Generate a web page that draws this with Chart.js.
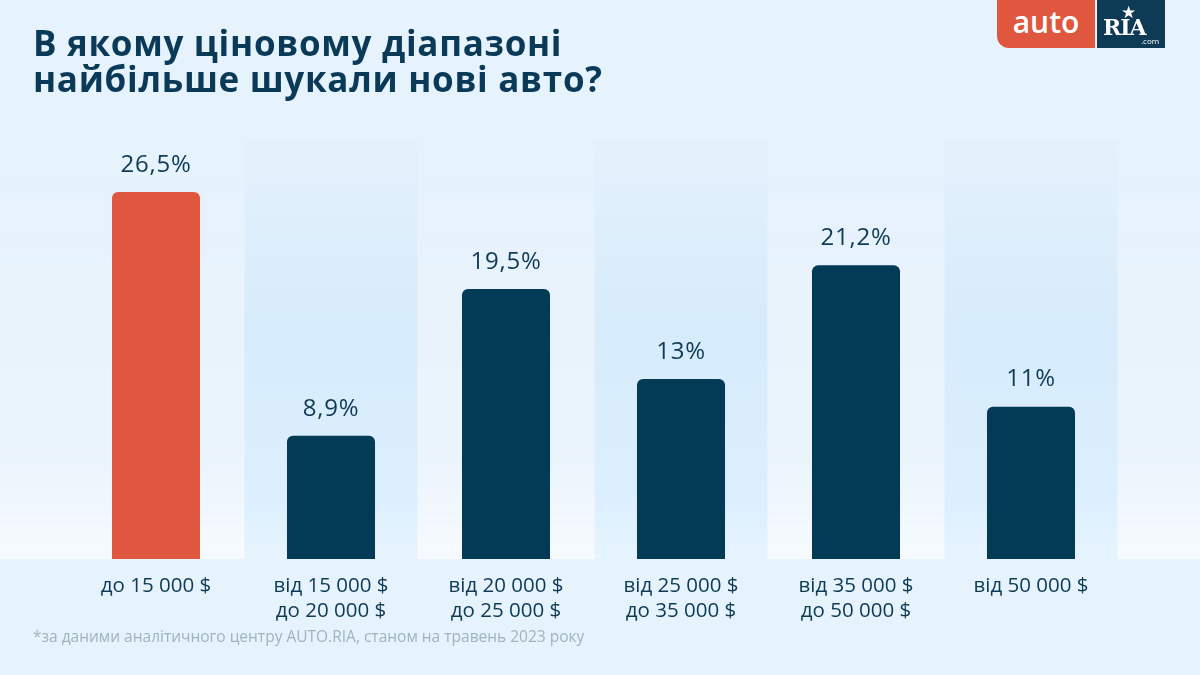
<!DOCTYPE html>
<html><head><meta charset="utf-8">
<script src="https://cdn.jsdelivr.net/npm/chart.js@4/dist/chart.umd.min.js"></script>
<style>
html,body{margin:0;padding:0;width:1200px;height:675px;overflow:hidden;background:#e6f2fc;font-family:"Open Sans",sans-serif;}
#wrap{position:relative;width:1200px;height:675px;}
canvas{position:absolute;left:0;top:0;}
#title{position:absolute;left:33px;top:25px;font-weight:700;font-size:35px;line-height:36px;color:#0a3a57;letter-spacing:0.7px;}
#note{position:absolute;left:33px;top:625px;font-size:15.5px;color:#9fb3c2;}
#logoA{position:absolute;left:997px;top:0;width:98px;height:48px;background:#df573f;border-bottom-left-radius:12px;color:#fff;font-size:30px;font-weight:600;text-align:center;line-height:44px;}
#logoR{position:absolute;left:1097px;top:0;width:68px;height:48px;background:#0d3a55;color:#fff;}
#logoR .r{position:absolute;left:6px;top:14px;font-family:"DejaVu Serif",serif;font-weight:700;font-size:22px;letter-spacing:-1px;}
#logoR .s{position:absolute;left:24px;top:0px;font-size:17px;}
#logoR .c{position:absolute;left:44px;top:35px;font-size:8px;}
</style></head>
<body><div id="wrap">
<canvas id="c" width="1200" height="675"></canvas>
<div id="title">В якому ціновому діапазоні<br>найбільше шукали нові авто?</div>
<div id="note">*за даними аналітичного центру AUTO.RIA, станом на травень 2023 року</div>
<div id="logoA">auto</div>
<div id="logoR"><span class="s">★</span><span class="r">RIA</span><span class="c">.com</span></div>
</div>
<script>
const categories = [
  ["до 15 000 $"],
  ["від 15 000 $","до 20 000 $"],
  ["від 20 000 $","до 25 000 $"],
  ["від 25 000 $","до 35 000 $"],
  ["від 35 000 $","до 50 000 $"],
  ["від 50 000 $"]
];
const values = [26.5, 8.9, 19.5, 13, 21.2, 11];
const valueLabels = ["26,5%","8,9%","19,5%","13%","21,2%","11%"];
const barColors = ["#df573f","#033a55","#033a55","#033a55","#033a55","#033a55"];
const stripeCategories = [1,3,5];

const bgPlugin = {
  id:'bg',
  beforeDraw(chart){
    const {ctx, chartArea, scales} = chart;
    const x = scales.x;
    const top = chartArea.top, bottom = chartArea.bottom;
    let g = ctx.createLinearGradient(0, top, 0, bottom);
    g.addColorStop(0,'rgba(255,255,255,0)');
    g.addColorStop(0.75,'rgba(255,255,255,0.2)');
    g.addColorStop(1,'rgba(255,255,255,0.65)');
    ctx.save();
    ctx.fillStyle = g;
    ctx.fillRect(0, top, chart.width, bottom-top);
    const w = x.getPixelForValue(1) - x.getPixelForValue(0);
    stripeCategories.forEach(i=>{
      const cx = x.getPixelForValue(i);
      const sg = ctx.createLinearGradient(0, top, 0, bottom);
      sg.addColorStop(0,'#e4f1fc');
      sg.addColorStop(0.45,'#d6ebfb');
      sg.addColorStop(0.85,'#dcefff');
      sg.addColorStop(1,'#e6f4fe');
      ctx.fillStyle = sg;
      ctx.fillRect(cx - w/2 + 1, top - 3, w - 2, bottom - top + 3);
    });
    ctx.restore();
  },
  afterDatasetsDraw(chart){
    const {ctx} = chart;
    const meta = chart.getDatasetMeta(0);
    ctx.save();
    ctx.fillStyle = '#0d3b55';
    ctx.font = '24px "Open Sans"';
    ctx.letterSpacing = '0.8px';
    ctx.textAlign = 'center';
    ctx.textBaseline = 'middle';
    meta.data.forEach((bar,i)=>{
      ctx.fillText(valueLabels[i], bar.x, bar.y - 27);
    });
    ctx.restore();
  }
};

new Chart(document.getElementById('c'), {
  type:'bar',
  data:{ labels: categories, datasets:[{ data: values, backgroundColor: barColors, borderRadius:{topLeft:6,topRight:6}, borderSkipped:'bottom', categoryPercentage:1, barPercentage:0.503 }]},
  options:{
    responsive:false, animation:false,
    layout:{ padding:{ left:68.5, right:81.5, top:143.5, bottom:44 } },
    plugins:{ legend:{display:false}, tooltip:{enabled:false} },
    scales:{
      y:{ display:false, min:0, max:30 },
      x:{ grid:{display:false}, border:{display:false},
          ticks:{ color:'#0d3b55', font:{family:'"Open Sans"', size:20.5, lineHeight:1.22}, padding:7, maxRotation:0 } }
    }
  },
  plugins:[bgPlugin]
});
</script>
</body></html>
